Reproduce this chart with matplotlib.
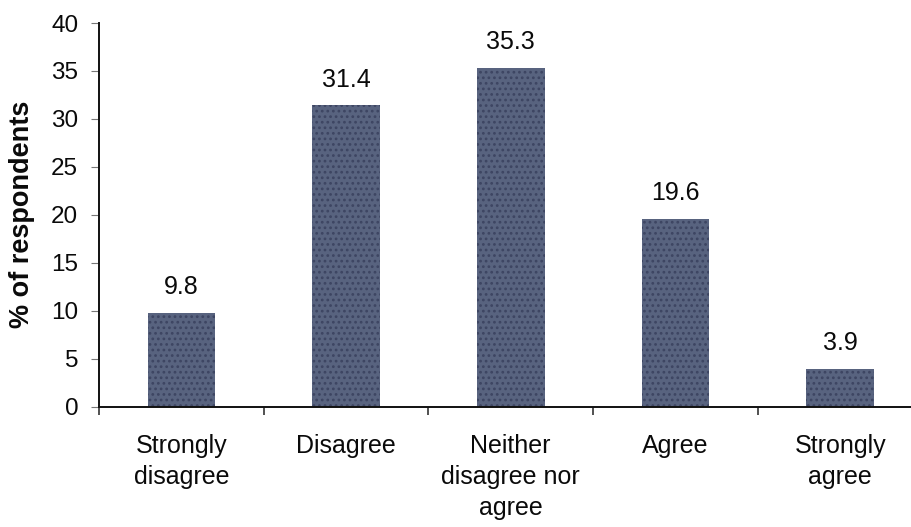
import matplotlib
matplotlib.use("Agg")
import matplotlib.pyplot as plt
import numpy as np

categories = ["Strongly\ndisagree", "Disagree", "Neither\ndisagree nor\nagree",
              "Agree", "Strongly\nagree"]
values = [9.8, 31.4, 35.3, 19.6, 3.9]
y_ticks = [0, 5, 10, 15, 20, 25, 30, 35, 40]

plt.rcParams["font.family"] = ["Liberation Sans", "DejaVu Sans"]
plt.rcParams["hatch.linewidth"] = 1.2

W, H = 912, 527
fig = plt.figure(figsize=(W / 100, H / 100), dpi=100)
# axes spans past the right edge so the baseline runs off the figure
ax = fig.add_axes([99 / W, (H - 406.5) / H, 823.5 / W, 383.5 / H])

x = np.arange(len(categories))
bars = ax.bar(x, values, width=0.41, color="#58637f", edgecolor="#3d4562",
              linewidth=0, hatch="...")

for xi, v in zip(x, values):
    ax.annotate(f"{v}", xy=(xi, v), xytext=(0, 13.5), textcoords="offset points",
                ha="center", va="baseline", fontsize=18, color="#0a0a0a")

ax.set_xlim(-0.5, len(categories) - 0.5)
ax.set_ylim(0, 40)
ax.set_yticks(y_ticks)
ax.set_yticklabels([str(t) for t in y_ticks], fontsize=17.5, color="#0a0a0a")
ax.tick_params(axis="y", length=6, width=0.8, color="#777777", pad=9)

# boundary ticks between categories, labels at category centres
ax.set_xticks(np.arange(len(categories) + 1) - 0.5)
ax.set_xticklabels([])
ax.tick_params(axis="x", which="major", length=6, width=1.2, color="#333333")
ax.set_xticks(x, minor=True)
ax.set_xticklabels(categories, minor=True, fontsize=18, color="#0a0a0a",
                   linespacing=1.36, multialignment="center")
ax.tick_params(axis="x", which="minor", length=0, pad=20)

for side in ("top", "right"):
    ax.spines[side].set_visible(False)
for side in ("left", "bottom"):
    ax.spines[side].set_linewidth(1.4)
    ax.spines[side].set_color("#111111")

fig.text(22 / W, 1 - 214.5 / H, "% of respondents", rotation=90, ha="center",
         va="center", fontsize=19.5, fontweight="bold", color="#0a0a0a")

fig.savefig("out.png", dpi=100)
